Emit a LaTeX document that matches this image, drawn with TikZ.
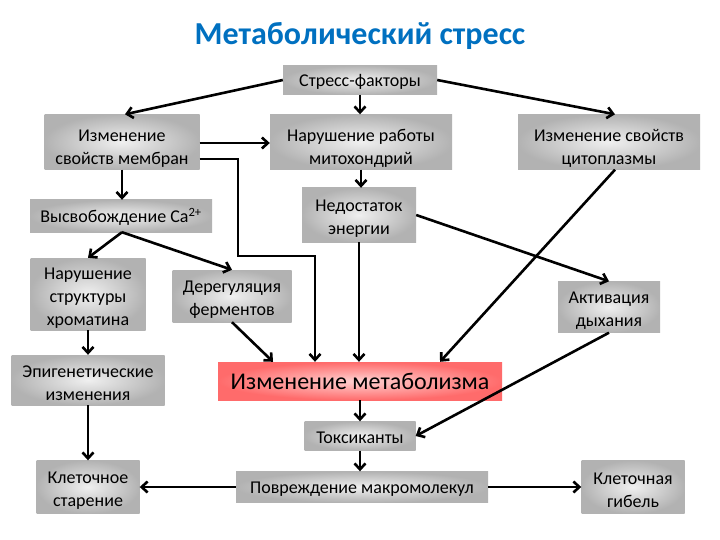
\documentclass[tikz,border=0pt]{standalone}
\usepackage{fontspec}
\setmainfont{Carlito}
\usetikzlibrary{arrows.meta}
\definecolor{titleblue}{RGB}{0,112,192}
\newcommand{\topstrut}{\rule{0pt}{25pt}}
\newcommand{\midstrut}{\rule{0pt}{19pt}}
\tikzset{
  box/.style={rectangle, inner color=gray!12, outer color=gray!60, align=center,
    inner sep=1pt, font=\fontsize{18}{23}\selectfont},
  mainbox/.style={rectangle, inner color=red!18, outer color=red!58, align=center,
    inner sep=1pt, font=\fontsize{24}{28}\selectfont},
  arr/.style={-{Straight Barb[length=6pt,width=11pt]}, line width=2.6pt},
}
\begin{document}
\begin{tikzpicture}[x=1pt, y=-1pt]
    \useasboundingbox (0,0) rectangle (720,540);

    % Title
    \node[font=\fontsize{32}{36}\selectfont\bfseries, text=titleblue] (title) at (360,36) {Метаболический стресс};

    % Boxes, placed at their centres
    \node[box, minimum width=154pt, minimum height=29pt] (stress) at (360,80) {\rule{0pt}{16pt}Стресс-факторы};
    \node[box, minimum width=155pt, minimum height=55pt] (membr) at (122,142) {\topstrut Изменение\\свойств мембран};
    \node[box, minimum width=182pt, minimum height=55pt] (mito) at (361,142) {\topstrut Нарушение работы\\митохондрий};
    \node[box, minimum width=182pt, minimum height=55pt] (cyto) at (609,142) {\topstrut Изменение свойств\\цитоплазмы};
    \node[box, minimum width=182pt, minimum height=32pt] (ca) at (121,216) {\rule{0pt}{16pt}Высвобождение Ca\textsuperscript{2+}};
    \node[box, minimum width=114pt, minimum height=54pt] (energy) at (359,215) {\midstrut Недостаток\\энергии};
    \node[box, minimum width=115pt, minimum height=72pt] (chrom) at (88,294) {\midstrut Нарушение\\структуры\\хроматина};
    \node[box, minimum width=119pt, minimum height=52pt] (dereg) at (232,296) {\midstrut Дерегуляция\\ферментов};
    \node[box, minimum width=102pt, minimum height=51pt] (resp) at (609,307) {\midstrut Активация\\дыхания};
    \node[box, minimum width=153pt, minimum height=50pt] (epi) at (88,380) {\midstrut Эпигенетические\\изменения};
    \node[mainbox, minimum width=284pt, minimum height=38pt] (metab) at (360,381) {Изменение метаболизма};
    \node[box, minimum width=111pt, minimum height=29pt] (toxic) at (360,436) {\rule{0pt}{16pt}Токсиканты};
    \node[box, minimum width=103pt, minimum height=53pt] (aging) at (88,487) {\midstrut Клеточное\\старение};
    \node[box, minimum width=252pt, minimum height=31pt] (damage) at (362,487) {\rule{0pt}{16pt}Повреждение макромолекул};
    \node[box, minimum width=103pt, minimum height=53pt] (death) at (633,487) {\midstrut Клеточная\\гибель};

    % Corner of the long line from the membranes
    \coordinate (bend) at (238,256);

    % Upper part
    \draw[arr] (stress.west) -- ([xshift=3pt]membr.north);
    \draw[arr] (stress.south) -- (stress.south |- mito.north);
    \draw[arr] (stress.east) -- ([xshift=6pt]cyto.north);
    \draw[arr] ([yshift=-1pt]membr.east) -- ([yshift=-1pt]membr.east -| mito.west);
    \draw[arr] ([yshift=-17pt]membr.east) -| (bend) -| ([xshift=-45pt]metab.north);
    \draw[arr] (membr.south) -- (membr.south |- ca.north);
    \draw[arr] (mito.south) -- (mito.south |- energy.north);
    \draw[arr] (energy.south) -- (energy.south |- metab.north);
    \draw[arr] (energy.east) -- (resp.north);
    \draw[arr] ([xshift=6pt]cyto.south) -- ([xshift=80pt]metab.north);

    % Middle part
    \draw[arr] ([xshift=1pt]ca.south) -- (chrom.north);
    \draw[arr] ([xshift=1pt]ca.south) -- (dereg.north);
    \draw[arr] (chrom.south) -- (epi.north);
    \draw[arr] (dereg.south) -- ([xshift=-87pt]metab.north);
    \draw[arr] (resp.south) -- (toxic.east);

    % Lower part
    \draw[arr] (metab.south) -- (toxic.north);
    \draw[arr] (epi.south) -- (aging.north);
    \draw[arr] (toxic.south) -- (toxic.south |- damage.north);
    \draw[arr] (damage.west) -- (aging.east);
    \draw[arr] (damage.east) -- (death.west);
\end{tikzpicture}
\end{document}
